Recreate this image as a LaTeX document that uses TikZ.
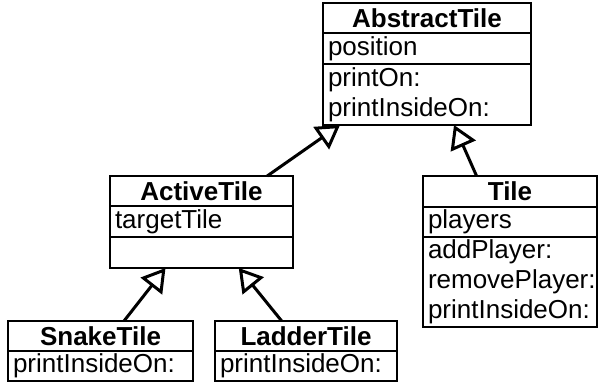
\documentclass[tikz,border=0pt]{standalone}
\usepackage{fontspec}
\setmainfont{Liberation Sans}
\usepackage{tikz}
\usetikzlibrary{arrows.meta,positioning,fit}
\tikzstyle{box}=[draw,line width=0.75pt,outer sep=0pt,inner ysep=0pt,inner xsep=2.5pt,minimum height=15pt]
\tikzstyle{classname}=[box,font=\fontsize{13}{15}\selectfont\bfseries,align=center]
\tikzstyle{members}=[box,font=\fontsize{13}{15}\selectfont,align=left]
\tikzstyle{umlclass}=[inner sep=0pt,outer sep=0pt]
\tikzstyle{inherit}=[line width=1.5pt,-{Triangle[open,length=11.5pt,width=13.5pt]}]

\begin{document}
\begin{tikzpicture}[x=1pt,y=-1pt]
\useasboundingbox (0,0) rectangle (299,191);

% AbstractTile
\node [classname,text width=99pt,anchor=north west] (abstract-name) at (161.5,1.5) {AbstractTile};
\node [members,text width=99pt,minimum height=15.5pt,below=0pt of abstract-name] (abstract-vars) {position};
\node [members,text width=99pt,minimum height=30.5pt,below=0pt of abstract-vars] (abstract-ops) {printOn:\\printInsideOn:};
\node [umlclass,fit=(abstract-name)(abstract-ops)] (abstract) {};

% ActiveTile
\node [classname,text width=86.5pt,anchor=north west] (active-name) at (55,88) {ActiveTile};
\node [members,text width=86.5pt,minimum height=15.5pt,below=0pt of active-name] (active-vars) {targetTile};
\node [members,text width=86.5pt,minimum height=15.5pt,below=0pt of active-vars] (active-ops) {};
\node [umlclass,fit=(active-name)(active-ops)] (active) {};

% Tile
\node [classname,text width=82pt,minimum height=15.5pt,anchor=north west] (tile-name) at (211.5,88) {Tile};
\node [members,text width=82pt,below=0pt of tile-name] (tile-vars) {players};
\node [members,text width=82pt,minimum height=45pt,below=0pt of tile-vars] (tile-ops) {addPlayer:\\removePlayer:\\printInsideOn:};
\node [umlclass,fit=(tile-name)(tile-ops)] (tile) {};

% SnakeTile
\node [classname,text width=87.5pt,anchor=north west] (snake-name) at (4,160.5) {SnakeTile};
\node [members,text width=87.5pt,below=0pt of snake-name] (snake-ops) {printInsideOn:};
\node [umlclass,fit=(snake-name)(snake-ops)] (snake) {};

% LadderTile
\node [classname,text width=86pt,anchor=north west] (ladder-name) at (107.5,160.5) {LadderTile};
\node [members,text width=86pt,below=0pt of ladder-name] (ladder-ops) {printInsideOn:};
\node [umlclass,fit=(ladder-name)(ladder-ops)] (ladder) {};

% inheritance
\draw [inherit] (active) -- (abstract);
\draw [inherit] (tile) -- (abstract);
\draw [inherit] (snake) -- (active);
\draw [inherit] (ladder) -- (active);
\end{tikzpicture}
\end{document}
